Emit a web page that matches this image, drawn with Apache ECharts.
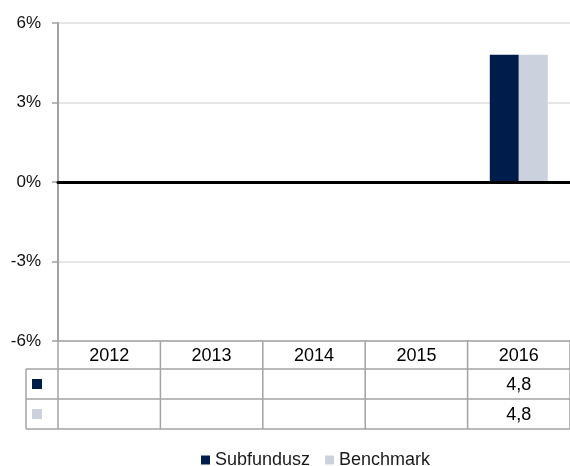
<!DOCTYPE html>
<html><head><meta charset="utf-8">
<script src="https://cdn.jsdelivr.net/npm/echarts@6/dist/echarts.min.js"></script>
<style>html,body{margin:0;padding:0;background:#fff}#c{width:570px;height:466px}</style>
</head><body><div id="c"></div>
<script>
const categories = ['2012', '2013', '2014', '2015', '2016'];
const seriesNames = ['Subfundusz', 'Benchmark'];
const subfundusz = [null, null, null, null, 4.8];
const benchmark = [null, null, null, null, 4.8];
const yMin = -6, yMax = 6, yInterval = 3;

const colors = ['#001c4b', '#cbd2dd'];
const font = '"Liberation Sans", Arial, sans-serif';
const borderColor = '#a3a3a3';

const chart = echarts.init(document.getElementById('c'), null, {renderer: 'canvas'});
const option = {
  animation: false,
  backgroundColor: '#fff',
  grid: {left: 58, width: 515, top: 23, bottom: 125, containLabel: false},
  xAxis: {
    type: 'category', data: categories, z: 5,
    axisLine: {onZero: true, lineStyle: {color: '#000', width: 3}},
    axisTick: {show: false}, axisLabel: {show: false}, splitLine: {show: false}
  },
  yAxis: {
    type: 'value', min: yMin, max: yMax, interval: yInterval,
    axisLine: {show: true, lineStyle: {color: borderColor, width: 2}},
    axisTick: {show: true, length: 6, lineStyle: {color: borderColor, width: 1.5}},
    axisLabel: {formatter: '{value}%', fontFamily: font, fontSize: 17, color: '#111', margin: 17},
    splitLine: {lineStyle: {color: '#e6e6e6', width: 2}}
  },
  legend: {
    data: seriesNames, left: 196, top: 446, icon: 'rect', itemWidth: 9, itemHeight: 9, itemGap: 15,
    textStyle: {fontFamily: font, fontSize: 18, color: '#1a1a1a'}
  },
  series: [
    {name: seriesNames[0], type: 'bar', data: subfundusz, barWidth: 29, barGap: '0%', itemStyle: {color: colors[0]}},
    {name: seriesNames[1], type: 'bar', data: benchmark, barWidth: 29, barGap: '0%', itemStyle: {color: colors[1]}}
  ]
};
chart.setOption(option);

// data table built from the axis scale
const centers = categories.map(c => chart.convertToPixel({xAxisIndex: 0}, c));
const step = centers[1] - centers[0];
const bounds = [centers[0] - step / 2].concat(centers.map(c => c + step / 2));
const plotBottom = chart.convertToPixel({yAxisIndex: 0}, yMin);
const headerH = 28, rowH = 30, keyLeft = 26;
const rowTops = [plotBottom + headerH, plotBottom + headerH + rowH];
const tableBottom = plotBottom + headerH + 2 * rowH;
const right = bounds[bounds.length - 1];
const g = [];
const line = (x1, y1, x2, y2) => g.push({type: 'line', z: 10, shape: {x1, y1, x2, y2}, style: {stroke: borderColor, lineWidth: 1.5}});
line(bounds[0], plotBottom, right, plotBottom);
rowTops.forEach(y => line(keyLeft, y, right, y));
line(keyLeft, tableBottom, right, tableBottom);
bounds.forEach(x => line(x, plotBottom, x, tableBottom));
line(keyLeft, rowTops[0], keyLeft, tableBottom);
const txt = (x, y, s) => g.push({type: 'text', z: 11, x, y, style: {text: s, fill: '#000', font: '18px ' + font, textAlign: 'center', textVerticalAlign: 'middle'}});
categories.forEach((c, i) => txt(centers[i], plotBottom + headerH / 2 + 1, c));
[subfundusz, benchmark].forEach((arr, r) => {
  const cy = rowTops[r] + rowH / 2;
  g.push({type: 'rect', z: 11, shape: {x: 32, y: cy - 5, width: 10, height: 10}, style: {fill: colors[r]}});
  arr.forEach((v, i) => { if (v != null) txt(centers[i], cy + 1, String(v).replace('.', ',')); });
});
chart.setOption({graphic: g});
</script></body></html>
